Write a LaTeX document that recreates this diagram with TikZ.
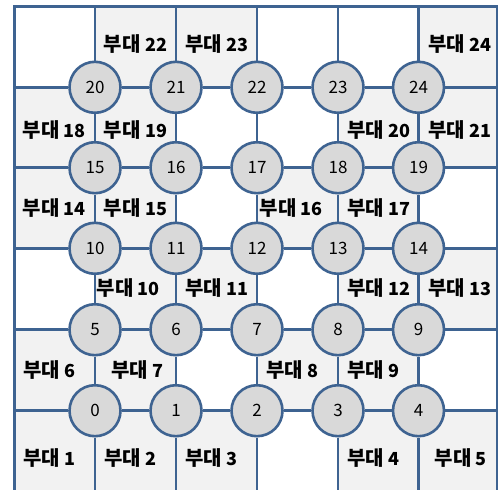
\documentclass[tikz,border=0pt]{standalone}
\usepackage{fontspec}
\setmainfont{Noto Sans CJK KR}
\definecolor{ln}{HTML}{3E6391}
\definecolor{cellg}{HTML}{F2F2F2}
\definecolor{circg}{HTML}{D9D9D9}
\newcommand\bd[1]{{\fontsize{20}{20}\selectfont 부대}\hspace{4.5pt}{\fontsize{18}{18}\selectfont #1}}
\tikzset{
  gridline/.style={draw=ln, line width=2.6pt},
  circ/.style={circle, draw=ln, line width=2.6pt, fill=circg, minimum size=51pt, inner sep=0pt, font=\fontsize{17}{17}\selectfont, text=black},
  lab/.style={inner sep=0pt, font=\bfseries, text=black},
}
\begin{document}
\begin{tikzpicture}[x=1pt,y=-1pt]
\useasboundingbox (0,0) rectangle (501,490);
\clip (0,0) rectangle (501,490);
\fill[white] (0,0) rectangle (501,490);
% gray cells
% row 0
\fill[cellg] (95,6.3) rectangle (176,87.3);
\fill[cellg] (176,6.3) rectangle (257,87.3);
\fill[cellg] (418.5,6.3) rectangle (497,87.3);
% row 1
\fill[cellg] (14.5,87.3) rectangle (95,167.7);
\fill[cellg] (95,87.3) rectangle (176,167.7);
\fill[cellg] (338,87.3) rectangle (418.5,167.7);
\fill[cellg] (418.5,87.3) rectangle (497,167.7);
% row 2
\fill[cellg] (14.5,167.7) rectangle (95,248.3);
\fill[cellg] (95,167.7) rectangle (176,248.3);
\fill[cellg] (257,167.7) rectangle (338,248.3);
\fill[cellg] (338,167.7) rectangle (418.5,248.3);
% row 3
\fill[cellg] (95,248.3) rectangle (176,329.7);
\fill[cellg] (176,248.3) rectangle (257,329.7);
\fill[cellg] (338,248.3) rectangle (418.5,329.7);
\fill[cellg] (418.5,248.3) rectangle (497,329.7);
% row 4
\fill[cellg] (14.5,329.7) rectangle (95,410.7);
\fill[cellg] (95,329.7) rectangle (176,410.7);
\fill[cellg] (257,329.7) rectangle (338,410.7);
\fill[cellg] (338,329.7) rectangle (418.5,410.7);
% row 5
\fill[cellg] (14.5,410.7) rectangle (95,494);
\fill[cellg] (95,410.7) rectangle (176,494);
\fill[cellg] (176,410.7) rectangle (257,494);
\fill[cellg] (338,410.7) rectangle (418.5,494);
\fill[cellg] (418.5,410.7) rectangle (497,494);
% outer border
\draw[gridline] (14.5,6.3) rectangle (497,494);
% circles
\node[circ] (n0) at (95,410.7) {0};
\node[circ] (n1) at (176,410.7) {1};
\node[circ] (n2) at (257,410.7) {2};
\node[circ] (n3) at (338,410.7) {3};
\node[circ] (n4) at (418.5,410.7) {4};
\node[circ] (n5) at (95,329.7) {5};
\node[circ] (n6) at (176,329.7) {6};
\node[circ] (n7) at (257,329.7) {7};
\node[circ] (n8) at (338,329.7) {8};
\node[circ] (n9) at (418.5,329.7) {9};
\node[circ] (n10) at (95,248.3) {10};
\node[circ] (n11) at (176,248.3) {11};
\node[circ] (n12) at (257,248.3) {12};
\node[circ] (n13) at (338,248.3) {13};
\node[circ] (n14) at (418.5,248.3) {14};
\node[circ] (n15) at (95,167.7) {15};
\node[circ] (n16) at (176,167.7) {16};
\node[circ] (n17) at (257,167.7) {17};
\node[circ] (n18) at (338,167.7) {18};
\node[circ] (n19) at (418.5,167.7) {19};
\node[circ] (n20) at (95,87.3) {20};
\node[circ] (n21) at (176,87.3) {21};
\node[circ] (n22) at (257,87.3) {22};
\node[circ] (n23) at (338,87.3) {23};
\node[circ] (n24) at (418.5,87.3) {24};
% border coordinates
\coordinate (L0) at (14.5,410.7); \coordinate (R0) at (497,410.7);
\coordinate (L1) at (14.5,329.7); \coordinate (R1) at (497,329.7);
\coordinate (L2) at (14.5,248.3); \coordinate (R2) at (497,248.3);
\coordinate (L3) at (14.5,167.7); \coordinate (R3) at (497,167.7);
\coordinate (L4) at (14.5,87.3);  \coordinate (R4) at (497,87.3);
\coordinate (T0) at (95,6.3);    \coordinate (B0) at (95,494);
\coordinate (T1) at (176,6.3);   \coordinate (B1) at (176,494);
\coordinate (T2) at (257,6.3);   \coordinate (B2) at (257,494);
\coordinate (T3) at (338,6.3);   \coordinate (B3) at (338,494);
\coordinate (T4) at (418.5,6.3); \coordinate (B4) at (418.5,494);
% horizontal lines
\draw[gridline] (L0) -- (n0) -- (n1) -- (n2) -- (n3) -- (n4) -- (R0);
\draw[gridline] (L1) -- (n5) -- (n6) -- (n7) -- (n8) -- (n9) -- (R1);
\draw[gridline] (L2) -- (n10) -- (n11) -- (n12) -- (n13) -- (n14) -- (R2);
\draw[gridline] (L3) -- (n15) -- (n16) -- (n17) -- (n18) -- (n19) -- (R3);
\draw[gridline] (L4) -- (n20) -- (n21) -- (n22) -- (n23) -- (n24) -- (R4);
% vertical lines
\draw[gridline] (T0) -- (n20) -- (n15) -- (n10) -- (n5) -- (n0) -- (B0);
\draw[gridline] (T1) -- (n21) -- (n16) -- (n11) -- (n6) -- (n1) -- (B1);
\draw[gridline] (T2) -- (n22) -- (n17) -- (n12) -- (n7) -- (n2) -- (B2);
\draw[gridline] (T3) -- (n23) -- (n18) -- (n13) -- (n8) -- (n3) -- (B3);
\draw[gridline] (T4) -- (n24) -- (n19) -- (n14) -- (n9) -- (n4) -- (B4);
% labels
\node[lab] (u22) at (135.5,44) {\bd{22}};
\node[lab] (u23) at (216.7,44) {\bd{23}};
\node[lab] (u24) at (460,44) {\bd{24}};
\node[lab] (u18) at (54.3,130.5) {\bd{18}};
\node[lab] (u19) at (135.5,130.5) {\bd{19}};
\node[lab] (u20) at (378.7,130.5) {\bd{20}};
\node[lab] (u21) at (460,130.5) {\bd{21}};
\node[lab] (u14) at (54.3,208.5) {\bd{14}};
\node[lab] (u15) at (135.5,208.5) {\bd{15}};
\node[lab] (u16) at (291.3,208.5) {\bd{16}};
\node[lab] (u17) at (378.7,208.5) {\bd{17}};
\node[lab] (u10) at (128.3,288.5) {\bd{10}};
\node[lab] (u11) at (216.7,288.5) {\bd{11}};
\node[lab] (u12) at (378.7,288.5) {\bd{12}};
\node[lab] (u13) at (460,288.5) {\bd{13}};
\node[lab] (u6) at (49.3,370.5) {\bd{6}};
\node[lab] (u7) at (137.2,370.5) {\bd{7}};
\node[lab] (u8) at (292.2,370.5) {\bd{8}};
\node[lab] (u9) at (373.3,370.5) {\bd{9}};
\node[lab] (u1) at (49.3,458.5) {\bd{1}};
\node[lab] (u2) at (130.3,458.5) {\bd{2}};
\node[lab] (u3) at (211.2,458.5) {\bd{3}};
\node[lab] (u4) at (373.3,458.5) {\bd{4}};
\node[lab] (u5) at (460.8,458.5) {\bd{5}};
\end{tikzpicture}
\end{document}
